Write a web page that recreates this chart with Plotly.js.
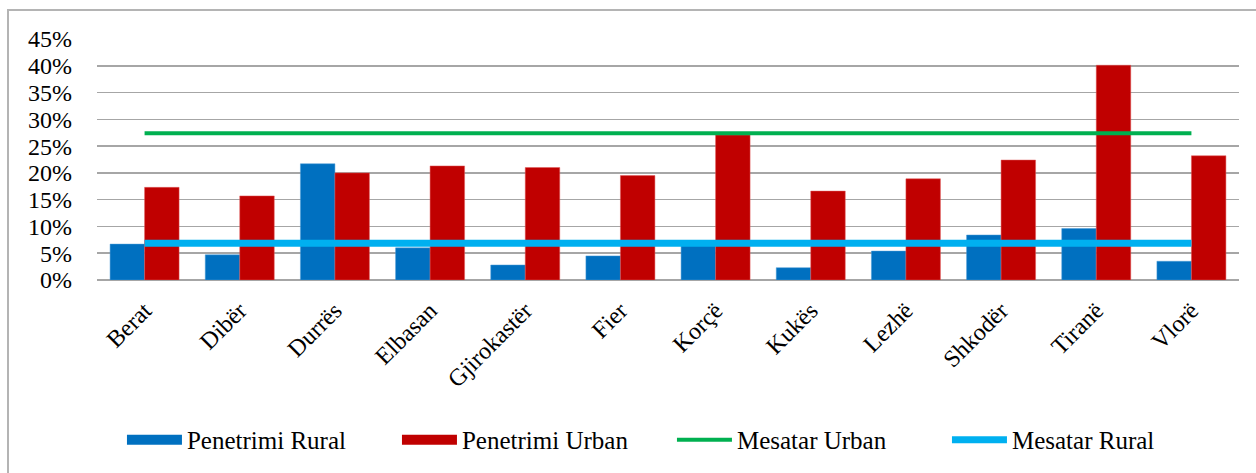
<!DOCTYPE html>
<html>
<head>
<meta charset="utf-8">
<script src="https://cdn.plot.ly/plotly-3.0.1.min.js"></script>
<style>
  html, body { margin: 0; padding: 0; background: #fff; overflow: hidden; }
  #chart { width: 1256px; height: 473px; position: relative; }
  #frame { position: absolute; left: 7px; top: 9px; width: 3000px; height: 3000px;
           border-left: 2px solid #b4b4b4; border-top: 2px solid #b4b4b4; pointer-events: none; }
</style>
</head>
<body>
<div id="chart"></div>
<div id="frame"></div>
<script>
const categories = ["Berat", "Dibër", "Durrës", "Elbasan", "Gjirokastër", "Fier", "Korçë", "Kukës", "Lezhë", "Shkodër", "Tiranë", "Vlorë"];
const penetrimiRural = [0.067, 0.047, 0.217, 0.060, 0.028, 0.045, 0.072, 0.023, 0.054, 0.084, 0.096, 0.035];
const penetrimiUrban = [0.173, 0.157, 0.200, 0.213, 0.210, 0.195, 0.271, 0.166, 0.189, 0.224, 0.401, 0.232];
const mesatarUrban = [0.274, 0.274, 0.274, 0.274, 0.274, 0.274, 0.274, 0.274, 0.274, 0.274, 0.274, 0.274];
const mesatarRural = [0.0685, 0.0685, 0.0685, 0.0685, 0.0685, 0.0685, 0.0685, 0.0685, 0.0685, 0.0685, 0.0685, 0.0685];
const yTickVals = [0, 0.05, 0.10, 0.15, 0.20, 0.25, 0.30, 0.35, 0.40, 0.45];
const yTickText = ["0%", "5%", "10%", "15%", "20%", "25%", "30%", "35%", "40%", "45%"];

const font = "Liberation Serif";
const blue = "#0070C0", red = "#C00000", green = "#00B050", cyan = "#00B0F0";

const traces = [
  { type: "bar", name: "Penetrimi Rural", x: categories, y: penetrimiRural, showlegend: false,
    marker: { color: blue, line: { color: "#4a9ad6", width: 0.5 } } },
  { type: "bar", name: "Penetrimi Urban", x: categories, y: penetrimiUrban, showlegend: false,
    marker: { color: red, line: { color: "#e05a5a", width: 0.5 } } },
  { type: "scatter", mode: "lines", name: "Mesatar Urban", x: categories, y: mesatarUrban,
    line: { color: green, width: 4 }, legendrank: 3 },
  { type: "scatter", mode: "lines", name: "Mesatar Rural", x: categories, y: mesatarRural,
    line: { color: cyan, width: 7 }, legendrank: 4 },
  // legend keys for the bar series (wide rectangles, as in the reference)
  { type: "scatter", mode: "lines", name: "Penetrimi Rural", x: [null], y: [null],
    line: { color: blue, width: 14 }, legendrank: 1, hoverinfo: "skip" },
  { type: "scatter", mode: "lines", name: "Penetrimi Urban", x: [null], y: [null],
    line: { color: red, width: 14 }, legendrank: 2, hoverinfo: "skip" }
];

const layout = {
  width: 1256, height: 473,
  margin: { l: 97, r: 17, t: 39, b: 193, autoexpand: false },
  paper_bgcolor: "#fff", plot_bgcolor: "#fff",
  barmode: "group", bargap: 0.275, bargroupgap: 0,
  showlegend: true,
  font: { family: font, size: 24, color: "#000" },
  xaxis: {
    type: "category", categoryorder: "array", categoryarray: categories,
    tickangle: -45, showgrid: false, zeroline: false,
    showline: false, ticks: "outside", ticklen: 6, tickcolor: "rgba(0,0,0,0)",
    tickfont: { family: font, size: 24, color: "#000" },
    automargin: false
  },
  yaxis: {
    range: [0, 0.45], tickvals: yTickVals, ticktext: yTickText,
    showgrid: true, gridcolor: "#a6a6a6", gridwidth: 1.5,
    zeroline: true, zerolinecolor: "#a6a6a6", zerolinewidth: 1.5,
    showline: false, ticks: "", ticklabelstandoff: 24,
    tickfont: { family: font, size: 24, color: "#000" }, automargin: false
  },
  legend: {
    orientation: "h", x: 0.535, xanchor: "center", xref: "container",
    y: 0.07, yanchor: "middle", yref: "container",
    font: { family: font, size: 25, color: "#000" },
    itemwidth: 55, entrywidth: 205, traceorder: "normal"
  }
};

Plotly.newPlot("chart", traces, layout, { displayModeBar: false, staticPlot: true });
</script>
</body>
</html>
